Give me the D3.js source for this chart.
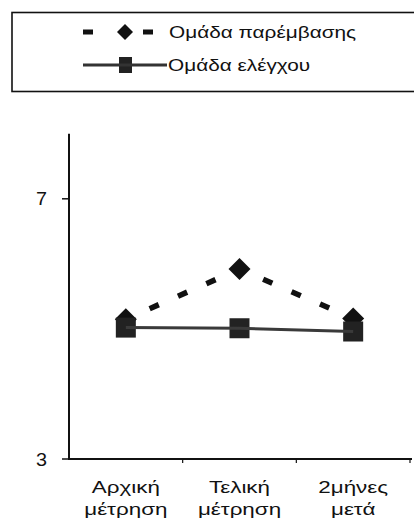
<!DOCTYPE html>
<html>
<head>
<meta charset="utf-8">
<script src="https://cdn.jsdelivr.net/npm/d3@7"></script>
<style>
  body { margin: 0; background: #fff; }
  svg { display: block; }
  text { font-family: "Liberation Sans", Arial, sans-serif; fill: #111; }
</style>
</head>
<body>
<div id="chart"></div>
<script>
// data
var categories = [["Αρχική", "μέτρηση"], ["Τελική", "μέτρηση"], ["2μήνες", "μετά"]];
var seriesNames = ["Ομάδα παρέμβασης", "Ομάδα ελέγχου"];
var intervention = [5.15, 5.92, 5.16];
var control = [5.02, 5.01, 4.96];
var yTicks = [3, 7];

var width = 414, height = 524;

var svg = d3.select("#chart")
  .append("svg")
  .attr("width", width)
  .attr("height", height);

var x = d3.scaleBand()
  .domain(d3.range(categories.length))
  .range([69, 410]);

var y = d3.scaleLinear()
  .domain([3, 8])
  .range([459, 133.75]);

// text helper: place at (px, py) and stretch sideways like the scan
function stretched(g, px, py, str, size, sx, anchor) {
  return g.append("text")
    .attr("transform", "translate(" + px + "," + py + ") scale(" + sx + ",1)")
    .attr("text-anchor", anchor || "start")
    .style("font-size", size + "px")
    .text(str);
}

// square diamond (rotated square), r = half diagonal
function diamond(r) {
  return "M0," + (-r) + "L" + r + ",0L0," + r + "L" + (-r) + ",0Z";
}

// legend box
svg.append("rect")
  .attr("x", 12).attr("y", 12.5)
  .attr("width", 420).attr("height", 79)
  .attr("fill", "none")
  .attr("stroke", "#111")
  .attr("stroke-width", 1.6);

var leg = svg.append("g");
// row 1: dashed with diamond
leg.append("line")
  .attr("x1", 83).attr("x2", 155).attr("y1", 32).attr("y2", 32)
  .attr("stroke", "#111").attr("stroke-width", 5)
  .attr("stroke-dasharray", "10,50");
leg.append("path")
  .attr("d", diamond(8))
  .attr("transform", "translate(125,32)")
  .attr("fill", "#111");
stretched(leg, 169, 38, seriesNames[0], 16, 1.3);
// row 2: solid with square
leg.append("rect")
  .attr("x", 119).attr("y", 57).attr("width", 13).attr("height", 16)
  .attr("fill", "#222");
leg.append("line")
  .attr("x1", 83).attr("x2", 167).attr("y1", 65).attr("y2", 65)
  .attr("stroke", "#333").attr("stroke-width", 3);
stretched(leg, 168, 71, seriesNames[1], 16, 1.3);

// axes
svg.append("line")
  .attr("x1", x.range()[0]).attr("x2", x.range()[0])
  .attr("y1", y(8)).attr("y2", y(3))
  .attr("stroke", "#111").attr("stroke-width", 2);
svg.append("line")
  .attr("x1", x.range()[0] - 1).attr("x2", x.range()[1] + 2)
  .attr("y1", y(3)).attr("y2", y(3))
  .attr("stroke", "#111").attr("stroke-width", 2);

yTicks.forEach(function(t) {
  svg.append("line")
    .attr("x1", x.range()[0] - 7).attr("x2", x.range()[0])
    .attr("y1", y(t)).attr("y2", y(t))
    .attr("stroke", "#111").attr("stroke-width", 1.5);
  stretched(svg, 47, y(t) + 6.5, String(t), 18, 1.1, "end");
});

// x ticks between categories
d3.range(1, categories.length + 1).forEach(function(i) {
  var tx = x.range()[0] + i * x.step();
  svg.append("line")
    .attr("x1", tx).attr("x2", tx)
    .attr("y1", y(3)).attr("y2", y(3) + 4)
    .attr("stroke", "#111").attr("stroke-width", 1.2);
});

categories.forEach(function(c, i) {
  var cx = x(i) + x.bandwidth() / 2;
  stretched(svg, cx, 493, c[0], 16, 1.4, "middle");
  stretched(svg, cx, 515, c[1], 16, 1.4, "middle");
});

function px(d, i) { return x(i) + x.bandwidth() / 2; }

// intervention: dashed line with diamonds
svg.append("path")
  .datum(intervention)
  .attr("d", d3.line().x(px).y(function(d) { return y(d); }))
  .attr("fill", "none")
  .attr("stroke", "#111")
  .attr("stroke-width", 5.5)
  .attr("stroke-dasharray", "10,21")
  .attr("stroke-dashoffset", 5);

svg.selectAll(".diamond")
  .data(intervention)
  .join("path")
  .attr("class", "diamond")
  .attr("d", diamond(11))
  .attr("transform", function(d, i) { return "translate(" + px(d, i) + "," + y(d) + ")"; })
  .attr("fill", "#111");

svg.selectAll(".square")
  .data(control)
  .join("rect")
  .attr("class", "square")
  .attr("x", function(d, i) { return px(d, i) - 10; })
  .attr("y", function(d) { return y(d) - 10; })
  .attr("width", 20).attr("height", 20)
  .attr("fill", "#222");

// control: solid line drawn over the squares
svg.append("path")
  .datum(control)
  .attr("d", d3.line().x(px).y(function(d) { return y(d); }))
  .attr("fill", "none")
  .attr("stroke", "#3a3a3a")
  .attr("stroke-width", 3);
</script>
</body>
</html>
